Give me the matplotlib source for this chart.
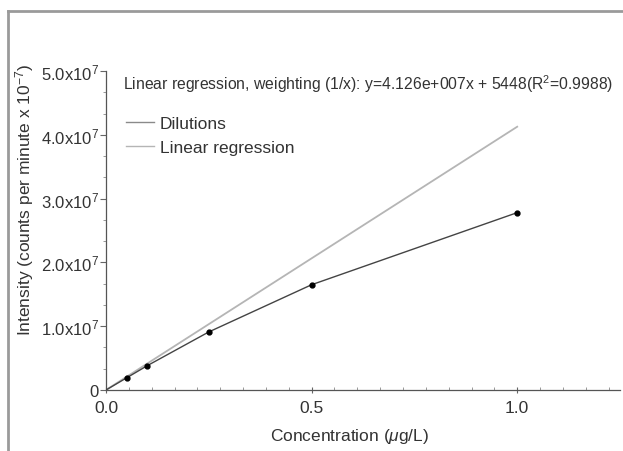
import numpy as np
import matplotlib
matplotlib.use("Agg")
from matplotlib import pyplot as plt
from matplotlib.lines import Line2D
from matplotlib.ticker import FixedLocator, AutoMinorLocator, FuncFormatter

#%% data
conc = [0.05, 0.1, 0.25, 0.5, 1.0]
intensity = [0.19e7, 0.38e7, 0.91e7, 1.65e7, 2.78e7]
slope = 4.126e7
intercept = 5448
fit_x = [0.0, 1.0]
x_ticks = [0.0, 0.5, 1.0]
y_ticks = [0, 1e7, 2e7, 3e7, 4e7, 5e7]
eq_text = "Linear regression, weighting (1/x): y=4.126e+007x + 5448(R$^2$=0.9988)"

#%% style
FONT = ["Liberation Sans", "DejaVu Sans"]
plt.rcParams['font.family'] = FONT
plt.rcParams['mathtext.fontset'] = 'custom'
plt.rcParams['mathtext.rm'] = 'Liberation Sans'
plt.rcParams['mathtext.it'] = 'Liberation Sans:italic'
TXT = '#333333'

fig = plt.figure(figsize=(6.23, 4.52), dpi=100)
ax = fig.add_axes([106/623, 1-391/452, 514/623, (391-72)/452])

fit_y = [slope*x + intercept for x in fit_x]
ax.plot(fit_x, fit_y, color='#b5b5b5', lw=1.3, zorder=2)
ax.plot([0.0] + conc, [0.0] + intensity, color='#444444', lw=1.0, zorder=3)
ax.plot(conc, intensity, 'o', color='black', ms=3.5, zorder=4)

ax.set_xlim(0, 1.25)
ax.set_ylim(0, 5e7)

for s in ['top', 'right']:
    ax.spines[s].set_visible(False)
for s in ['left', 'bottom']:
    ax.spines[s].set_color('#555555')
    ax.spines[s].set_linewidth(0.9)

ax.xaxis.set_major_locator(FixedLocator(x_ticks))
ax.xaxis.set_minor_locator(AutoMinorLocator(9))
ax.yaxis.set_major_locator(FixedLocator(y_ticks))
ax.yaxis.set_minor_locator(AutoMinorLocator(3))

def yfmt(v, pos):
    if v == 0:
        return "0"
    return "%.1fx10$^{7}$" % (v/1e7)

ax.yaxis.set_major_formatter(FuncFormatter(yfmt))
ax.xaxis.set_major_formatter(FuncFormatter(lambda v, p: "%.1f" % v))

ax.tick_params(axis='y', which='major', direction='out', length=4, width=0.8,
               color='#666666', labelsize=12, labelcolor=TXT, pad=1)
ax.tick_params(axis='y', which='minor', direction='out', length=2.5, width=0.6,
               color='#888888')
ax.tick_params(axis='x', which='major', direction='inout', length=4, width=0.8,
               color='#666666', labelsize=12.5, labelcolor=TXT, pad=5)
ax.tick_params(axis='x', which='minor', direction='in', length=2.5, width=0.6,
               color='#888888')

ax.set_xlabel("Concentration ($\\mu$g/L)", fontsize=12.5, color=TXT)
ax.xaxis.set_label_coords((350-106)/514, (391-427)/319)
ax.set_ylabel("Intensity (counts per minute x 10$^{-7}$)", fontsize=12.5, color=TXT)
ax.yaxis.set_label_coords((36-106)/514, (391-200)/319)

fig.text(123/623, 1-84/452, eq_text, fontsize=11.3, color=TXT, va='center', ha='left')

handles = [Line2D([], [], color='#8a8a8a', lw=1.0),
           Line2D([], [], color='#b5b5b5', lw=1.0)]
ax.legend(handles, ["Dilutions", "Linear regression"], loc='upper left',
          bbox_to_anchor=(0.025, 0.88), frameon=False, fontsize=12.5,
          handlelength=1.6, handletextpad=0.35, labelspacing=0.5,
          labelcolor=TXT, borderaxespad=0)

# outer frame (top and left edges)
fig.add_artist(Line2D([8/623, 1.0], [1-12/452, 1-12/452], color='#9a9a9a', lw=2))
fig.add_artist(Line2D([8/623, 8/623], [0, 1-12/452], color='#9a9a9a', lw=2))

fig.savefig("out.png", dpi=100)
